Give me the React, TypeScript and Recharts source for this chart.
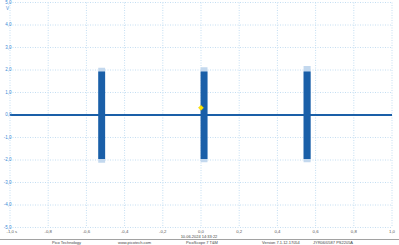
import React from "react";
import {
  ComposedChart,
  Line,
  Area,
  Scatter,
  XAxis,
  YAxis,
  CartesianGrid,
} from "recharts";

// ---- data ----
const xTicks = [-1, -0.8, -0.6, -0.4, -0.2, 0, 0.2, 0.4, 0.6, 0.8, 1];
const xTickLabels = ["-1,0 s", "-0,8", "-0,6", "-0,4", "-0,2", "0,0", "0,2", "0,4", "0,6", "0,8", "1,0"];
const yTicks = [-5, -4, -3, -2, -1, 0, 1, 2, 3, 4, 5];
const yTickLabels = ["-5,0", "-4,0", "-3,0", "-2,0", "-1,0", "0,0", "1,0", "2,0", "3,0", "4,0", "5,0"];

const baselineTimes = [-1, 1];
const baselineVolts = [0, 0];

const burstStarts = [-0.538, -0.002, 0.537];
const burstEnds = [-0.502, 0.034, 0.574];
const burstHigh = [1.93, 1.93, 1.93];
const burstLow = [-1.96, -1.96, -1.96];
const overshootHigh = [2.1, 2.12, 2.18];
const overshootLow = [-2.12, -2.1, -2.1];

const triggerTime = [0];
const triggerLevel = [0.32];

const footerTexts = ["Pico Technology", "www.picotech.com", "PicoScope 7 T&M", "Version 7.1.12.17054", "JYR06/0587 PS2205A"];
const dateText = "10.06.2024 14:33:22";

// ---- derived tables ----
const baseline = baselineTimes.map((t, i) => ({ x: t, v: baselineVolts[i] }));
const bursts = burstStarts.map((s, i) => [
  { x: s, main: [burstLow[i], burstHigh[i]], over: [overshootLow[i], overshootHigh[i]] },
  { x: burstEnds[i], main: [burstLow[i], burstHigh[i]], over: [overshootLow[i], overshootHigh[i]] },
]);
const trigger = triggerTime.map((t, i) => ({ x: t, v: triggerLevel[i] }));

const BLUE = "#1a5fa8";
const FONT = "'Liberation Sans', Arial, sans-serif";

const XTick = (props: any) => {
  const { x, y, payload, index } = props;
  const label = xTickLabels[xTicks.indexOf(payload.value)] ?? "";
  const first = payload.value === -1 || index === 0;
  return (
    <text
      x={first ? x - 3.5 : x}
      y={y}
      textAnchor={first ? "start" : "middle"}
      dominantBaseline="middle"
      fontSize={4.3}
      fontFamily={FONT}
      fill="#555"
    >
      {label}
    </text>
  );
};

const YTick = (props: any) => {
  const { y, payload } = props;
  const label = yTickLabels[yTicks.indexOf(payload.value)] ?? "";
  return (
    <text
      x={11.5}
      y={y}
      textAnchor="end"
      dominantBaseline="middle"
      fontSize={4.5}
      fontFamily={FONT}
      fill="#3d8ad6"
    >
      {label}
    </text>
  );
};

const Diamond = (props: any) => {
  const { cx, cy } = props;
  const r = 2.6;
  return (
    <polygon
      points={`${cx},${cy - r} ${cx + r},${cy} ${cx},${cy + r} ${cx - r},${cy}`}
      fill="#ffe600"
      stroke="#e0c000"
      strokeWidth={0.4}
    />
  );
};

export default function App() {
  return (
    <div style={{ position: "absolute", left: 0, top: 0, width: 399, height: 245, background: "#fff" }}>
      <ComposedChart
        width={399}
        height={245}
        margin={{ top: 2.5, right: 7, bottom: 0, left: 0 }}
        data={baseline}
      >
        <CartesianGrid
          stroke="#c4def2"
          strokeDasharray="1 1.5"
          horizontalValues={yTicks}
          verticalValues={xTicks}
        />
        <XAxis
          dataKey="x"
          type="number"
          domain={[-1, 1]}
          ticks={xTicks}
          interval={0}
          height={17.5}
          axisLine={false}
          tickLine={false}
          tickSize={0}
          tick={<XTick />}
          tickMargin={4}
          allowDataOverflow
        />
        <YAxis
          type="number"
          domain={[-5, 5]}
          ticks={yTicks}
          interval={0}
          width={10}
          axisLine={false}
          tickLine={false}
          tick={<YTick />}
          allowDataOverflow
        />
        <Line
          data={baseline}
          dataKey="v"
          stroke={BLUE}
          strokeWidth={2}
          dot={false}
          isAnimationActive={false}
        />
        {bursts.map((b, i) => (
          <Area
            key={`o${i}`}
            data={b}
            dataKey="over"
            type="linear"
            stroke="none"
            fill="#c3d8ee"
            fillOpacity={1}
            isAnimationActive={false}
          />
        ))}
        {bursts.map((b, i) => (
          <Area
            key={`m${i}`}
            data={b}
            dataKey="main"
            type="linear"
            stroke="none"
            fill={BLUE}
            fillOpacity={1}
            isAnimationActive={false}
          />
        ))}
        <Scatter data={trigger} dataKey="v" shape={<Diamond />} isAnimationActive={false} />
      </ComposedChart>
      <svg
        width={399}
        height={245}
        style={{ position: "absolute", left: 0, top: 0, pointerEvents: "none" }}
      >
        <text x={7.5} y={8.5} textAnchor="middle" dominantBaseline="middle" fontSize={4.5} fontFamily={FONT} fill="#3d8ad6">
          V
        </text>
        <text x={199} y={237.2} textAnchor="middle" dominantBaseline="middle" fontSize={4} fontFamily={FONT} fill="#444">
          {dateText}
        </text>
        <line x1={0} x2={399} y1={239.5} y2={239.5} stroke="#8a8a8a" strokeWidth={0.8} />
        {[52, 118, 186, 262, 313].map((x, i) => (
          <text key={i} x={x} y={243} dominantBaseline="middle" fontSize={4} fontFamily={FONT} fill="#444">
            {footerTexts[i]}
          </text>
        ))}
      </svg>
    </div>
  );
}
